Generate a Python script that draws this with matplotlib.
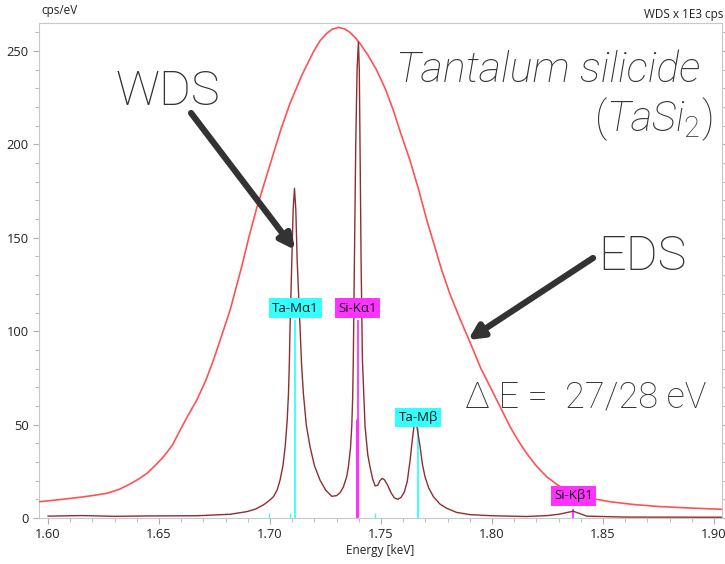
import matplotlib
matplotlib.use('Agg')

import matplotlib.pyplot as plt
import numpy as np

# colours
c_eds = '#ff5252'
c_wds = '#8e2f2f'
c_cyan = '#33ffff'
c_mag = '#ff33ff'
c_txt = '#333333'

# EDS spectrum (energy keV, cps/eV)
eds_e = [1.5959, 1.6050, 1.6144, 1.6200, 1.6264, 1.6320, 1.6369, 1.6410, 1.6445,
         1.6480, 1.6520, 1.6560, 1.6595, 1.6630, 1.6670, 1.6710, 1.6745, 1.6780,
         1.6820, 1.6872, 1.6905, 1.6940, 1.6980, 1.7015, 1.7050, 1.7090, 1.7143,
         1.7195, 1.7225, 1.7255, 1.7280, 1.7308, 1.7335, 1.7360, 1.7385, 1.7405,
         1.7440, 1.7480, 1.7520, 1.7555, 1.7590, 1.7630, 1.7670, 1.7706, 1.7740,
         1.7773, 1.7810, 1.7856, 1.7901, 1.7950, 1.8006, 1.8045, 1.8081, 1.8120,
         1.8156, 1.8200, 1.8246, 1.8300, 1.8366, 1.8450, 1.8532, 1.8640, 1.8757,
         1.8900, 1.9050]
eds_v = [8.7, 9.8, 11.1, 12.0, 13.2, 15.3, 18.2, 21.0, 23.9,
         27.8, 32.8, 39.0, 47.1, 54.8, 63.2, 73.5, 84.6, 97.0,
         111.3, 134.5, 150.5, 166.0, 181.5, 195.0, 208.5, 222.0, 237.0,
         249.5, 255.5, 259.4, 261.7, 262.6, 261.9, 260.0, 257.0, 254.0,
         248.0, 239.8, 229.5, 218.4, 205.5, 191.6, 175.5, 159.5, 146.0,
         132.8, 120.0, 106.5, 94.0, 80.0, 66.8, 57.5, 48.9, 41.0,
         34.6, 27.8, 22.1, 17.3, 13.2, 10.4, 8.7, 7.2, 6.1,
         5.3, 4.6]

# WDS spectrum
wds_e = [1.6000, 1.6150, 1.6300, 1.6450, 1.6670, 1.6820, 1.6895, 1.6935, 1.6970,
         1.6995, 1.7015, 1.7032, 1.7045, 1.7058, 1.7068, 1.7077, 1.7083, 1.7087,
         1.7090, 1.7098, 1.7104, 1.7110, 1.7116, 1.7122, 1.7135, 1.7142, 1.7150,
         1.7163, 1.7180, 1.7200, 1.7225, 1.7250, 1.7278, 1.7300, 1.7315, 1.7330,
         1.7345, 1.7353, 1.7362, 1.7368, 1.7372, 1.7375, 1.7380, 1.7386, 1.7392,
         1.7398, 1.7402, 1.7406, 1.7410, 1.7416, 1.7428, 1.7440, 1.7450, 1.7462,
         1.7473, 1.7485, 1.7495, 1.7505, 1.7515, 1.7528, 1.7545, 1.7560, 1.7575,
         1.7590, 1.7605, 1.7618, 1.7631, 1.7640, 1.7649, 1.7655, 1.7661, 1.7668,
         1.7676, 1.7686, 1.7698, 1.7715, 1.7736, 1.7765, 1.7796, 1.7840, 1.7901,
         1.8000, 1.8156, 1.8250, 1.8306, 1.8340, 1.8366, 1.8390, 1.8426, 1.8600,
         1.9050]
wds_v = [1.0, 1.3, 0.9, 1.1, 1.2, 2.0, 3.4, 4.8, 7.0,
         9.2, 11.4, 15.0, 20.3, 28.0, 38.2, 52.0, 66.8, 84.0,
         102.0, 138.0, 165.0, 176.5, 165.0, 138.0, 102.0, 82.0, 66.8,
         50.0, 38.2, 28.0, 20.3, 15.0, 11.6, 12.0, 13.5, 16.5,
         22.0, 27.5, 37.0, 48.9, 64.0, 84.6, 138.0, 200.0, 240.0,
         255.0, 240.0, 190.0, 138.0, 84.6, 48.9, 34.0, 27.5, 21.0,
         17.2, 17.5, 20.0, 21.2, 20.5, 18.0, 13.5, 10.8, 10.0,
         11.0, 14.0, 19.5, 31.0, 41.0, 49.8, 51.0, 49.5, 44.0,
         38.2, 29.0, 22.1, 16.0, 11.4, 7.5, 5.2, 3.0, 1.8,
         1.2, 0.8, 1.3, 2.1, 3.0, 3.6, 2.6, 1.0, 0.5,
         0.4]

# line markers: label, energy, height, colour, label position
mark_lbl = ['Ta-M\u03b11', 'Si-K\u03b11', 'Ta-M\u03b2', 'Si-K\u03b21']
mark_e = [1.7113, 1.7395, 1.7668, 1.8366]
mark_h = [106, 106, 48, 5]
mark_c = [c_cyan, c_mag, c_cyan, c_mag]
mark_ly = [112.3, 112.3, 53.8, 11.8]
# extra small markers
minor_e = [1.6997, 1.7090, 1.7474]
minor_h = [2.5, 2.5, 2.5]

plt.rcParams['font.family'] = ['Open Sans', 'DejaVu Sans']
plt.rcParams['mathtext.fontset'] = 'custom'
plt.rcParams['mathtext.rm'] = 'Roboto:light'
plt.rcParams['mathtext.it'] = 'Roboto:italic:light'

fig = plt.figure(figsize=(7.25, 5.64), dpi=100)
ax = fig.add_axes([39/725, 1-518/564, 683/725, 495/564])

ax.set_xlim(1.5959, 1.9036)
ax.set_ylim(0, 265)

# marker lines
for e, h, c in zip(mark_e, mark_h, mark_c):
    ax.vlines(e, 0, h, color=c, lw=1.3, zorder=2)
ax.vlines(1.7391, 0, 53, color=c_mag, lw=2.2, zorder=2)
ax.vlines(minor_e, 0, minor_h, color=c_cyan, lw=1.0, zorder=2)

ax.plot(eds_e, eds_v, color=c_eds, lw=1.2, zorder=3)
ax.plot(wds_e, wds_v, color=c_wds, lw=1.0, zorder=3)

for lbl, e, y, c in zip(mark_lbl, mark_e, mark_ly, mark_c):
    ax.text(e, y, lbl, ha='center', va='center', fontsize=9.5, color='#111111',
            bbox=dict(boxstyle='square,pad=0.25', fc=c, ec='none'), zorder=5)

# axes styling
for s in ax.spines.values():
    s.set_color('#c8c8c8')
ax.set_xticks(np.arange(1.60, 1.91, 0.05))
ax.set_xticks(np.arange(1.60, 1.905, 0.01), minor=True)
ax.set_yticks(np.arange(0, 251, 50))
ax.set_yticks(np.arange(0, 261, 10), minor=True)
ax.xaxis.set_major_formatter(matplotlib.ticker.FormatStrFormatter('%.2f'))
ax.tick_params(which='both', color='#b0b0b0', labelcolor='#222222', labelsize=9.3)
ax.tick_params(which='major', length=4)
ax.tick_params(which='minor', length=3)
ax.tick_params(axis='y', which='both', right=True)
ax.set_xlabel('Energy [keV]', fontsize=8.5, color='#222222', labelpad=2)
ax.text(0.004, 1.012, 'cps/eV', transform=ax.transAxes, fontsize=8.5,
        color='#222222', ha='left', va='bottom')
fig.text(723/725, 1-18/564, 'WDS x 1E3 cps', fontsize=8.5, color='#222222',
         ha='right', va='baseline')

# annotations
big = dict(family='Roboto', fontweight='light', color=c_txt)
ax.text(1.6302, 221, 'WDS', fontsize=35, ha='left', va='baseline', **big)
ax.text(1.8477, 132.5, 'EDS', fontsize=35, ha='left', va='baseline', **big)
ax.text(1.8937, 233.6, 'Tantalum silicide', fontsize=31, style='italic',
        ha='right', va='baseline', **big)
ax.text(1.8995, 207, r'$\mathit{(TaSi}_{\mathit{2}}\mathit{)}$', fontsize=30,
        ha='right', va='baseline', color=c_txt)
ax.text(1.7878, 58.9, '\u0394 E =  27/28 eV', fontsize=26, ha='left',
        va='baseline', **big)

arrow = dict(arrowstyle='-|>', lw=4.5, color=c_txt, mutation_scale=22,
             shrinkA=0, shrinkB=0)
ax.annotate('', xy=(1.7113, 143.5), xytext=(1.6644, 216.8), arrowprops=arrow, zorder=6)
ax.annotate('', xy=(1.7892, 95.3), xytext=(1.8455, 139.2), arrowprops=arrow, zorder=6)

fig.savefig('out.png', dpi=100)
